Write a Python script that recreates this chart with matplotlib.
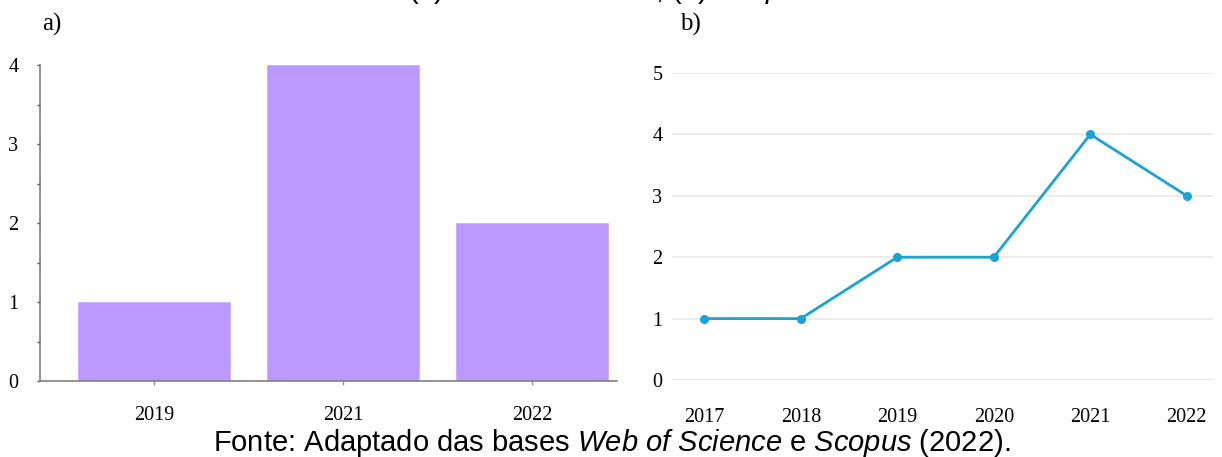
import numpy as np
import matplotlib.pyplot as plt

# a) Web of Science
wos_years = ['2019', '2021', '2022']
wos_counts = [1, 4, 2]

# b) Scopus
scopus_years = ['2017', '2018', '2019', '2020', '2021', '2022']
scopus_counts = [1, 1, 2, 2, 4, 3]

plt.rcParams['mathtext.fontset'] = 'custom'
plt.rcParams['mathtext.it'] = 'Liberation Sans:italic'
plt.rcParams['mathtext.rm'] = 'Liberation Sans'

W, H = 1222, 457
fig = plt.figure(figsize=(W / 100, H / 100), dpi=100)

serif = 'Liberation Serif'
axis_col = '#808080'
tick_fs = 14.5

# left panel: bar chart
ax1 = fig.add_axes([40 / W, 1 - 381 / H, (617 - 40) / W, (381 - 65) / H])
x1 = np.arange(len(wos_years))
ax1.bar(x1, wos_counts, width=0.8, color='#bb99ff', edgecolor='#c8adff', linewidth=0.6)
ax1.set_xlim((40 - 154) / 189, (617 - 154) / 189)
ax1.set_ylim(0, 4)
ax1.set_xticks(x1)
ax1.set_xticklabels(wos_years, family=serif, fontsize=tick_fs)
ax1.set_yticks([0, 1, 2, 3, 4])
ax1.set_yticklabels(['0', '1', '2', '3', '4'], family=serif, fontsize=tick_fs)
ax1.set_yticks([0.5, 1.5, 2.5, 3.5], minor=True)
for s in ['top', 'right']:
    ax1.spines[s].set_visible(False)
for s in ['left', 'bottom']:
    ax1.spines[s].set_color(axis_col)
    ax1.spines[s].set_linewidth(1.2)
ax1.tick_params(axis='y', which='both', length=2.5, width=1, color='#505050', pad=13, direction='out')
ax1.tick_params(axis='x', length=3, width=1, color='#909090', pad=15, direction='out')

# right panel: line chart
ax2 = fig.add_axes([672 / W, 1 - 380 / H, (1213 - 672) / W, (380 - 73) / H])
x2 = np.arange(len(scopus_years))
ax2.plot(x2, scopus_counts, color='#1ba3d2', linewidth=2, marker='o', markersize=5.5,
         zorder=3, clip_on=False)
ax2.set_xlim((672 - 704.3) / 96.5, (1213 - 704.3) / 96.5)
ax2.set_ylim(0, 5)
ax2.set_xticks(x2)
ax2.set_xticklabels(scopus_years, family=serif, fontsize=tick_fs)
ax2.set_yticks(range(6))
ax2.set_yticklabels([str(v) for v in range(6)], family=serif, fontsize=tick_fs)
ax2.grid(axis='y', color='#e9e9e9', linewidth=1.2)
ax2.axhline(0, color='#e2e8f4', linewidth=1.4, zorder=1)
for s in ax2.spines.values():
    s.set_visible(False)
ax2.tick_params(axis='both', length=0)
ax2.tick_params(axis='y', pad=7)
ax2.tick_params(axis='x', pad=20)

# panel labels
fig.text(42 / W, 1 - 24 / H, 'a)', family=serif, fontsize=18, va='center')
fig.text(680 / W, 1 - 24 / H, 'b)', family=serif, fontsize=18, va='center')

# top caption (cut off by the image border, as in the source page)
fig.text(0.5, 1 + 2 / H, r'(a) $Web\ of\ Science$; (b) $Scopus$',
         family='Liberation Sans', fontsize=21, ha='center', va='baseline')

# source
fig.text(612 / W, 1 - 451 / H,
         r'Fonte: Adaptado das bases $Web\ of\ Science$ e $Scopus$ (2022).',
         family='Liberation Sans', fontsize=21, ha='center', va='baseline')

fig.savefig('out.png', dpi=100)
